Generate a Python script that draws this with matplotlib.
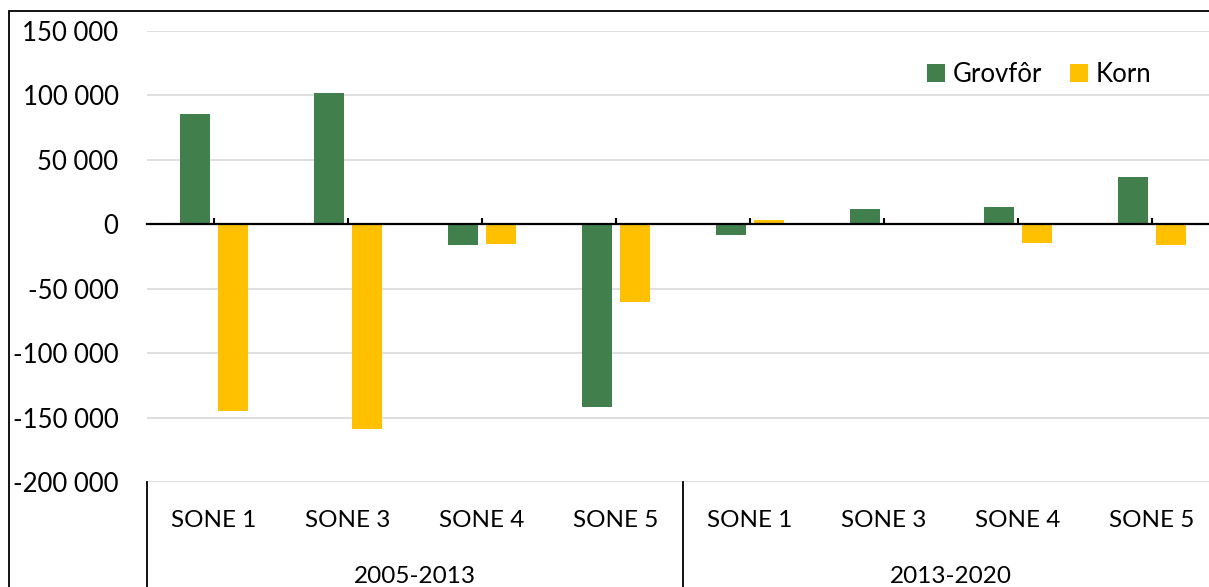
import matplotlib.pyplot as plt
import numpy as np
from matplotlib.patches import Rectangle
from matplotlib.ticker import FuncFormatter

zones = ["SONE 1", "SONE 3", "SONE 4", "SONE 5", "SONE 1", "SONE 3", "SONE 4", "SONE 5"]
periods = ["2005-2013", "2013-2020"]
grovfor = [85800, 102100, -15900, -141900, -8000, 11600, 13500, 36800]
korn = [-144600, -158500, -15100, -60200, 3100, 0, -14900, -16100]

GREEN = "#41804C"
YELLOW = "#FFC000"

plt.rcParams["font.family"] = ["Lato", "DejaVu Sans"]

W, H = 1209, 587
fig = plt.figure(figsize=(W / 100, H / 100), dpi=100)

# axes extends past the right edge, the reference is cropped there
x0, x1, ytop, ybot = 147, 1219, 31, 482
ax = fig.add_axes([x0 / W, 1 - ybot / H, (x1 - x0) / W, (ybot - ytop) / H])

x = np.arange(len(zones))
width = 0.224
offset = 0.142
ax.bar(x - offset, grovfor, width, color=GREEN, label="Grovfôr", zorder=3)
ax.bar(x + offset, korn, width, color=YELLOW, label="Korn", zorder=3)

ax.set_xlim(-0.5, len(zones) - 0.5)
ax.set_ylim(-200000, 150000)
ax.set_yticks(np.arange(-200000, 150001, 50000))
ax.yaxis.set_major_formatter(FuncFormatter(lambda v, _: f"{int(v):,}".replace(",", " ")))
ax.grid(axis="y", color="#D9D9D9", linewidth=1.2, zorder=0)

for side in ["top", "right", "left"]:
    ax.spines[side].set_visible(False)
ax.spines["bottom"].set_position(("data", 0))
ax.spines["bottom"].set_linewidth(1.6)
ax.spines["bottom"].set_zorder(4)
ax.set_xticks(x)
ax.set_xticklabels([])
ax.tick_params(axis="x", direction="in", length=4.5, width=1.5)
ax.tick_params(axis="y", length=0, labelsize=18.5, pad=20.5)

trans = ax.get_xaxis_transform()
for i, z in enumerate(zones):
    ax.text(i, -0.085, z, transform=trans, ha="center", va="center", fontsize=17.5)
n = len(zones) // len(periods)
for j, p in enumerate(periods):
    ax.text(j * n + (n - 1) / 2, -0.21, p, transform=trans, ha="center", va="center", fontsize=17.5)
for b in np.arange(len(periods) + 1) * n - 0.5:
    ax.plot([b, b], [0, -0.3], transform=trans, color="black", lw=1.3, clip_on=False)

fig.legend(loc="center left", bbox_to_anchor=(927 / W, 1 - 74 / H), ncol=2, frameon=False,
           fontsize=18.5, borderpad=0, borderaxespad=0, handlelength=0.7, handleheight=0.7,
           handletextpad=0.3, columnspacing=1.1)

fig.patches.append(Rectangle((9 / W, -0.1), 1.2, (H - 11) / H + 0.1, transform=fig.transFigure,
                             fill=False, edgecolor="black", lw=1.3))

fig.savefig("out.png", dpi=100)
